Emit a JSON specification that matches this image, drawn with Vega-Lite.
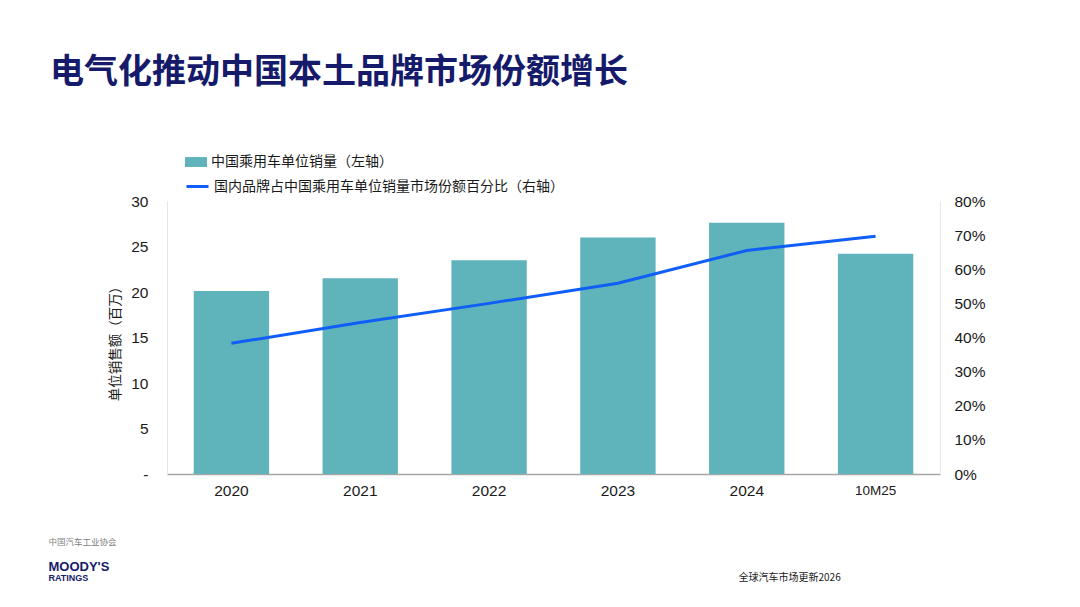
{
  "$schema": "https://vega.github.io/schema/vega-lite/v6.json",
  "width": 773,
  "height": 273,
  "autosize": {"type": "none"},
  "padding": {"left": 167, "top": 201, "right": 140, "bottom": 133},
  "background": "white",
  "title": {
    "text": "电气化推动中国本土品牌市场份额增长",
    "font": "Noto Sans CJK SC",
    "fontSize": 34,
    "fontWeight": "bold",
    "color": "#161a6a",
    "anchor": "start",
    "frame": "group",
    "baseline": "bottom",
    "dx": -117,
    "offset": 27
  },
  "config": {
    "font": "Liberation Sans, Noto Sans CJK SC, sans-serif",
    "view": {"stroke": null},
    "axis": {"grid": false, "ticks": false}
  },
  "data": {
    "values": [
      {"period": "2020", "sales": 20.1, "share": 0.383},
      {"period": "2021", "sales": 21.5, "share": 0.444},
      {"period": "2022", "sales": 23.5, "share": 0.500},
      {"period": "2023", "sales": 26.0, "share": 0.559},
      {"period": "2024", "sales": 27.6, "share": 0.655},
      {"period": "10M25", "sales": 24.2, "share": 0.697}
    ]
  },
  "layer": [
    {
      "mark": {"type": "bar"},
      "encoding": {
        "x": {
          "field": "period",
          "type": "ordinal",
          "scale": {"domain": ["2020", "2021", "2022", "2023", "2024", "10M25"], "paddingInner": 0.415, "paddingOuter": 0.2075},
          "axis": {
            "orient": "bottom",
            "labelAngle": 0,
            "labelFont": "Liberation Sans",
            "labelFontSize": {"condition": {"test": "datum.value == '10M25'", "value": 13.5}, "value": 15.5},
            "labelColor": "#1a1a1a",
            "labelPadding": 9,
            "labelBaseline": "top",
            "domainColor": "#a6a6a6",
            "domainWidth": 1.5,
            "title": "中国汽车工业协会",
            "titleFont": "Noto Sans CJK SC",
            "titleFontSize": 8.5,
            "titleFontWeight": "normal",
            "titleColor": "#808080",
            "titleAlign": "left",
            "titleBaseline": "middle",
            "titleX": -119,
            "titleY": 67
          }
        },
        "y": {
          "field": "sales",
          "type": "quantitative",
          "scale": {"domain": [0, 30]},
          "axis": {
            "orient": "left",
            "values": [0, 5, 10, 15, 20, 25, 30],
            "labelExpr": "datum.value == 0 ? '-' : datum.label",
            "labelFont": "Liberation Sans",
            "labelFontSize": 15.5,
            "labelColor": "#1a1a1a",
            "labelPadding": 19,
            "domainColor": "#e6e6e6",
            "title": "单位销售额（百万）",
            "titleFont": "Noto Sans CJK SC",
            "titleFontSize": 13.5,
            "titleFontWeight": "normal",
            "titleColor": "#1a1a1a",
            "titleAngle": -90,
            "titleAlign": "center",
            "titleBaseline": "middle",
            "titleX": -52,
            "titleY": 139
          }
        },
        "fill": {
          "datum": "中国乘用车单位销量（左轴）",
          "scale": {"range": ["#5fb4bb"]},
          "legend": {
            "orient": "none",
            "legendX": 18,
            "legendY": -50,
            "title": null,
            "padding": 0,
            "symbolType": "M-1,-0.45H1V0.45H-1Z",
            "symbolSize": 484,
            "symbolStrokeWidth": 0,
            "labelFont": "Noto Sans CJK SC",
            "labelFontSize": 14,
            "labelColor": "#1a1a1a",
            "labelOffset": 4,
            "labelLimit": 600
          }
        }
      }
    },
    {
      "mark": {"type": "line", "strokeWidth": 3},
      "encoding": {
        "x": {
          "field": "period",
          "type": "ordinal",
          "scale": {"domain": ["2020", "2021", "2022", "2023", "2024", "10M25"], "paddingInner": 0.415, "paddingOuter": 0.2075},
          "axis": {
            "orient": "top",
            "labels": false,
            "domain": false,
            "title": "MOODY'S",
            "titleFont": "Liberation Sans",
            "titleFontSize": 13,
            "titleFontWeight": 900,
            "titleColor": "#161a6a",
            "titleAlign": "left",
            "titleBaseline": "middle",
            "titleX": -119,
            "titleY": 365
          }
        },
        "y": {
          "field": "share",
          "type": "quantitative",
          "scale": {"domain": [0, 0.8]},
          "axis": {
            "orient": "right",
            "values": [0, 0.1, 0.2, 0.3, 0.4, 0.5, 0.6, 0.7, 0.8],
            "format": ".0%",
            "labelFont": "Liberation Sans",
            "labelFontSize": 15.5,
            "labelColor": "#1a1a1a",
            "labelPadding": 14,
            "domainColor": "#e6e6e6",
            "title": "RATINGS",
            "titleFont": "Liberation Sans",
            "titleFontSize": 9,
            "titleFontWeight": "bold",
            "titleColor": "#161a6a",
            "titleAngle": 0,
            "titleAlign": "left",
            "titleBaseline": "middle",
            "titleX": -892,
            "titleY": 376
          }
        },
        "stroke": {
          "datum": "国内品牌占中国乘用车单位销量市场份额百分比（右轴）",
          "scale": {"range": ["#0f5ef7"]},
          "legend": {
            "orient": "none",
            "legendX": 18,
            "legendY": -27,
            "title": null,
            "padding": 0,
            "symbolType": "stroke",
            "symbolSize": 484,
            "symbolStrokeWidth": 3,
            "labelFont": "Noto Sans CJK SC",
            "labelFontSize": 14,
            "labelColor": "#1a1a1a",
            "labelOffset": 4,
            "labelLimit": 600
          }
        }
      }
    },
    {
      "mark": {"type": "point", "opacity": 0},
      "encoding": {
        "x": {
          "field": "period",
          "type": "ordinal",
          "scale": {"domain": ["2020", "2021", "2022", "2023", "2024", "10M25"], "paddingInner": 0.415, "paddingOuter": 0.2075},
          "axis": null
        },
        "y": {
          "field": "share",
          "type": "quantitative",
          "axis": {
            "orient": "left",
            "labels": false,
            "domain": false,
            "title": "全球汽车市场更新2026",
            "titleFont": "Noto Sans CJK SC",
            "titleFontSize": 10,
            "titleFontWeight": "normal",
            "titleColor": "#1a1a1a",
            "titleAngle": 0,
            "titleAlign": "left",
            "titleBaseline": "middle",
            "titleX": 571,
            "titleY": 376
          }
        }
      }
    }
  ],
  "resolve": {
    "scale": {"y": "independent"},
    "axis": {"x": "independent"}
  }
}
